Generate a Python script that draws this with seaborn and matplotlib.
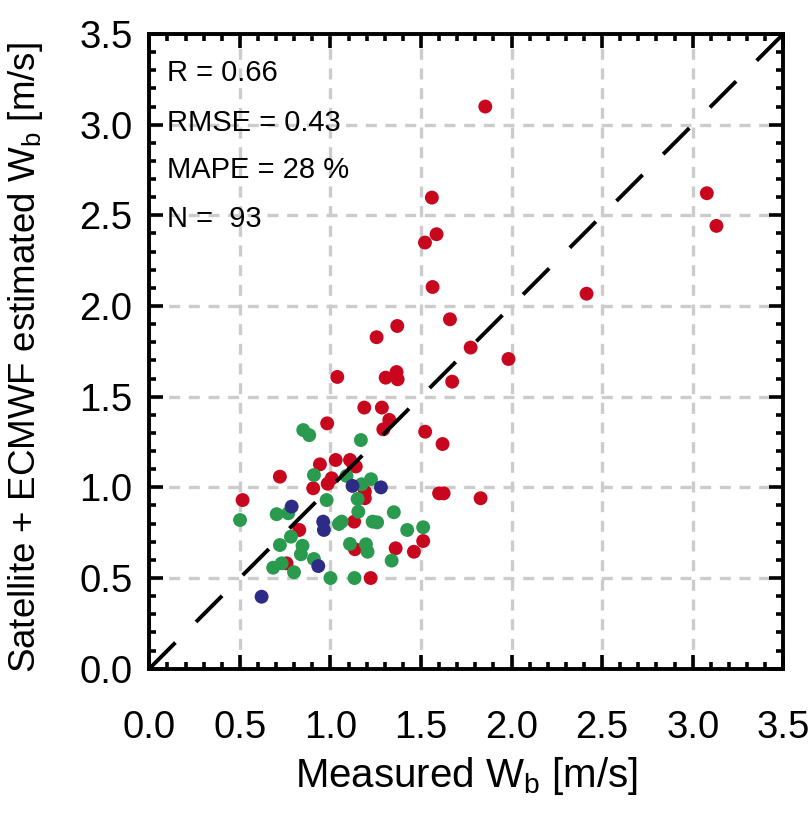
import numpy as np
import pandas as pd
import matplotlib
matplotlib.use("Agg")
import matplotlib.pyplot as plt
from matplotlib.ticker import MultipleLocator
import seaborn as sns

red_x = [1.855, 3.078, 3.131, 1.560, 1.586, 1.522, 1.564, 2.414, 1.660, 1.369,
         1.255, 1.774, 1.983, 1.038, 1.305, 1.365, 1.371, 1.672, 0.982, 1.187,
         1.284, 1.325, 1.292, 1.523, 1.619, 0.942, 1.029, 1.108, 1.126, 1.140,
         0.721, 1.007, 0.905, 1.190, 1.190, 1.600, 1.625, 1.829, 1.131, 1.512,
         1.360, 1.461, 1.135, 1.222, 0.515, 0.828, 0.758, 0.985]
red_y = [3.100, 2.622, 2.442, 2.598, 2.396, 2.350, 2.105, 2.068, 1.927, 1.890,
         1.828, 1.771, 1.708, 1.609, 1.605, 1.636, 1.596, 1.583, 1.353, 1.440,
         1.440, 1.372, 1.320, 1.307, 1.239, 1.127, 1.151, 1.151, 1.127, 1.115,
         1.059, 1.050, 0.995, 0.976, 0.940, 0.967, 0.967, 0.940, 0.811, 0.704,
         0.664, 0.645, 0.659, 0.500, 0.930, 0.765, 0.581, 1.020]

green_x = [0.850, 0.883, 1.168, 0.909, 1.089, 1.172, 1.224, 0.979, 1.150, 1.154,
           1.350, 1.062, 1.047, 1.233, 1.258, 1.424, 1.512, 1.108, 1.196, 1.205,
           1.338, 0.909, 1.000, 1.133, 0.501, 0.703, 0.767, 0.782, 0.721, 0.846,
           0.837, 0.684, 0.731, 0.799]
green_y = [1.316, 1.288, 1.261, 1.068, 1.063, 1.017, 1.045, 0.930, 0.936, 0.866,
           0.863, 0.811, 0.798, 0.811, 0.807, 0.765, 0.780, 0.688, 0.686, 0.645,
           0.596, 0.605, 0.500, 0.500, 0.820, 0.852, 0.857, 0.728, 0.682, 0.678,
           0.631, 0.557, 0.581, 0.532]

blue_x = [0.786, 0.960, 0.964, 1.122, 1.279, 0.933, 0.620]
blue_y = [0.894, 0.811, 0.765, 1.008, 1.000, 0.566, 0.397]

stats_labels = ["R = 0.66", "RMSE = 0.43", "MAPE = 28 %", "N =  93"]
ticks = [0.0, 0.5, 1.0, 1.5, 2.0, 2.5, 3.0, 3.5]
tick_labels = ["0.0", "0.5", "1.0", "1.5", "2.0", "2.5", "3.0", "3.5"]

df = pd.DataFrame({
    "x": red_x + green_x + blue_x,
    "y": red_y + green_y + blue_y,
    "grp": ["red"] * len(red_x) + ["green"] * len(green_x) + ["blue"] * len(blue_x),
})

sns.set_style("ticks")
plt.rcParams["font.family"] = ["Liberation Sans", "DejaVu Sans"]
plt.rcParams["mathtext.fontset"] = "custom"
plt.rcParams["mathtext.rm"] = "Liberation Sans"
plt.rcParams["text.color"] = "black"
plt.rcParams["axes.labelcolor"] = "black"
plt.rcParams["xtick.color"] = "black"
plt.rcParams["ytick.color"] = "black"

fig = plt.figure(figsize=(8.10, 8.14), dpi=100)
ax = fig.add_axes([0.1843, 0.1785, 0.7827, 0.7797])

palette = {"red": "#C8061E", "green": "#2A9A4E", "blue": "#2D2B86"}
sns.scatterplot(data=df, x="x", y="y", hue="grp", palette=palette, s=100,
                edgecolor="none", linewidth=0, legend=False, ax=ax, zorder=3)

ax.plot([0, 3.5], [0, 3.5], color="black", lw=2.8, dashes=(9.5, 7.5), zorder=4)

ax.set_xlim(0, 3.5)
ax.set_ylim(0, 3.5)
ax.set_xticks(ticks)
ax.set_xticklabels(tick_labels)
ax.set_yticks(ticks)
ax.set_yticklabels(tick_labels)
ax.xaxis.set_minor_locator(MultipleLocator(0.1))
ax.yaxis.set_minor_locator(MultipleLocator(0.1))
ax.grid(True, which="major", color="#CCCCCC", lw=2.4, linestyle=(0, (3.3, 2.6)), zorder=0)
ax.set_axisbelow(True)

ax.tick_params(which="both", direction="in", top=True, right=True, width=2.6, colors="black")
ax.tick_params(which="major", length=10, labelsize=27.5)
ax.tick_params(axis="x", which="major", pad=30)
ax.tick_params(axis="y", which="major", pad=12)
ax.tick_params(which="minor", length=5)
for sp in ax.spines.values():
    sp.set_linewidth(2.8)
    sp.set_color("black")

ax.set_xlabel(r"Measured W$_\mathregular{b}$ [m/s]", fontsize=29, labelpad=6)
ax.set_ylabel(r"Satellite + ECMWF estimated W$_\mathregular{b}$ [m/s]", fontsize=26.5)
ax.yaxis.set_label_coords(-0.165, 0.49)

ys = [0.9386, 0.860, 0.786, 0.7086]
for lab, yy in zip(stats_labels, ys):
    ax.text(0.028, yy, lab, transform=ax.transAxes, fontsize=21, va="center", ha="left", zorder=5)

fig.savefig("out.png", dpi=100)
